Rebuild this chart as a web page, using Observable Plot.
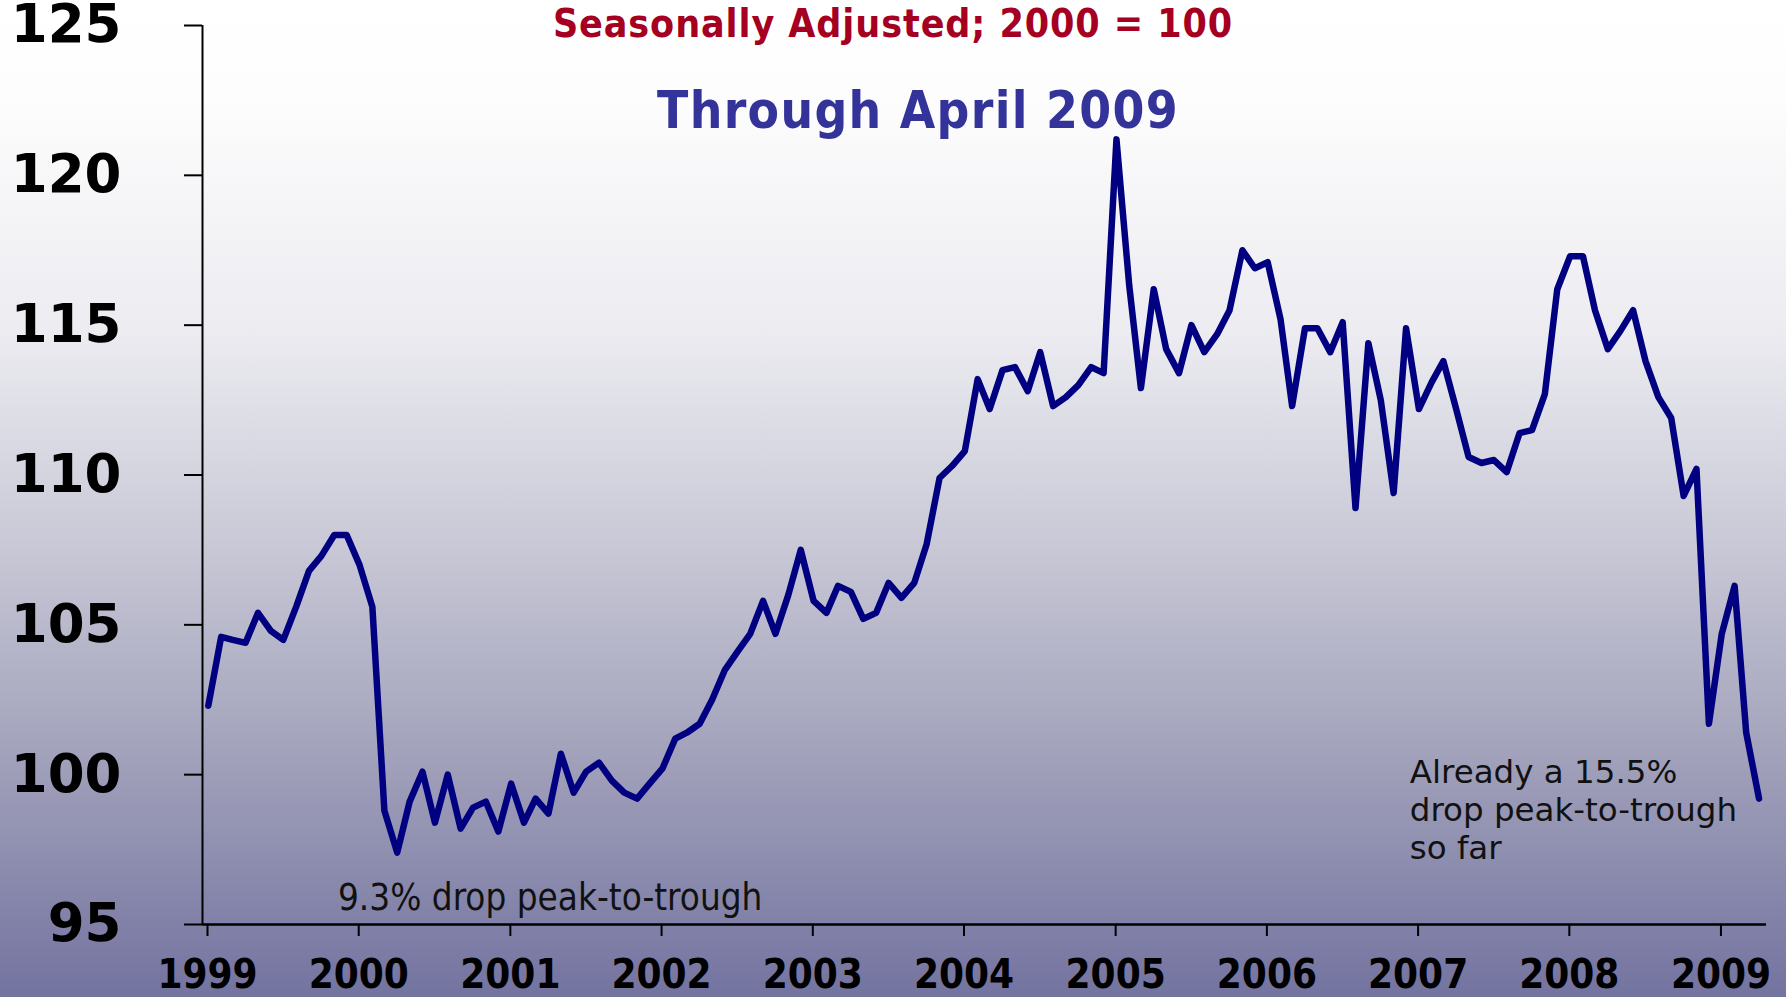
<!DOCTYPE html>
<html>
<head>
<meta charset="utf-8">
<script src="https://cdn.jsdelivr.net/npm/d3@7"></script>
<script src="https://cdn.jsdelivr.net/npm/@observablehq/plot@0.6"></script>
<style>
  html, body { margin: 0; padding: 0; }
  #wrap {
    position: relative; width: 1786px; height: 997px; overflow: hidden;
    background: linear-gradient(to bottom, #ffffff 0%, #fdfdfd 10%, #ececf1 33%, #cdcdda 52%, #a3a3bc 75%, #7373a0 100%);
  }
  #wrap svg { position: absolute; left: 0; top: 0; }
  .ttl { position: absolute; white-space: nowrap; line-height: 1; transform: translateX(-50%);
         font-family: "DejaVu Sans Condensed", "DejaVu Sans"; font-stretch: condensed; font-weight: bold; }
  #t1 { left: 893px; top: 4px; font-size: 39px; color: #A50021; letter-spacing: 0.9px; }
  #t2 { left: 918px; top: 85px; font-size: 51px; color: #333399; letter-spacing: 1.3px; }
</style>
</head>
<body>
<div id="wrap">
  <div class="ttl" id="t1">Seasonally Adjusted; 2000 = 100</div>
  <div class="ttl" id="t2">Through April 2009</div>
</div>
<script>
// Monthly index values, January 1999 through April 2009
const startYear = 1999;
const indexValues = [
  102.3, 104.6, 104.5, 104.4, 105.4, 104.8, 104.5, 105.6, 106.8, 107.3, 108.0, 108.0, // 1999
  107.0, 105.6, 98.8, 97.4, 99.1, 100.1, 98.4, 100.0, 98.2, 98.9, 99.1, 98.1,          // 2000
  99.7, 98.4, 99.2, 98.7, 100.7, 99.4, 100.1, 100.4, 99.8, 99.4, 99.2, 99.7,           // 2001
  100.2, 101.2, 101.4, 101.7, 102.5, 103.5, 104.1, 104.7, 105.8, 104.7, 106.0, 107.5,  // 2002
  105.8, 105.4, 106.3, 106.1, 105.2, 105.4, 106.4, 105.9, 106.4, 107.7, 109.9, 110.3,  // 2003
  110.8, 113.2, 112.2, 113.5, 113.6, 112.8, 114.1, 112.3, 112.6, 113.0, 113.6, 113.4,  // 2004
  121.2, 116.3, 112.9, 116.2, 114.2, 113.4, 115.0, 114.1, 114.7, 115.5, 117.5, 116.9,  // 2005
  117.1, 115.2, 112.3, 114.9, 114.9, 114.1, 115.1, 108.9, 114.4, 112.5, 109.4, 114.9,  // 2006
  112.2, 113.1, 113.8, 112.2, 110.6, 110.4, 110.5, 110.1, 111.4, 111.5, 112.7, 116.2,  // 2007
  117.3, 117.3, 115.5, 114.2, 114.8, 115.5, 113.8, 112.6, 111.9, 109.3, 110.2, 101.7,  // 2008
  104.7, 106.3, 101.4, 99.2                                                            // 2009
];
const yTicks = [95, 100, 105, 110, 115, 120, 125];
const xTickYears = [1999, 2000, 2001, 2002, 2003, 2004, 2005, 2006, 2007, 2008, 2009];
const xDomain = [new Date(Date.UTC(1999, 0, 1)), new Date(Date.UTC(2009, 4, 3))];
const yDomain = [95, 125];

const annotations = [
  {date: new Date(Date.UTC(1999, 10, 24)), value: 95.5, text: "9.3% drop peak-to-trough"},
  {date: new Date(Date.UTC(2006, 11, 24)), value: 97.2, text: "Already a 15.5%\ndrop peak-to-trough\nso far"}
];

const data = indexValues.map((v, i) => ({
  date: new Date(Date.UTC(startYear + Math.floor(i / 12), i % 12, 15)),
  value: v
}));
const tickDates = xTickYears.map(y => new Date(Date.UTC(y, 0, 1)));

const chart = Plot.plot({
  width: 1786,
  height: 997,
  marginLeft: 202,
  marginRight: 20,
  marginTop: 25,
  marginBottom: 73,
  style: {background: "transparent", overflow: "visible"},
  x: {type: "utc", domain: xDomain},
  y: {domain: yDomain},
  marks: [
    Plot.axisY(yTicks, {
      tickSize: 18, tickPadding: 63, strokeWidth: 2, stroke: "black", fill: "black",
      fontSize: 53, fontWeight: "bold", fontFamily: "DejaVu Sans", label: null
    }),
    Plot.axisX(tickDates, {
      tickSize: 12, tickPadding: 23, strokeWidth: 2, stroke: "black", fill: "black",
      tickFormat: d3.utcFormat("%Y"), dx: 5,
      fontSize: 40, fontWeight: "bold", fontFamily: "DejaVu Sans Condensed", label: null
    }),
    Plot.ruleX([xDomain[0]], {y1: yDomain[0], y2: yDomain[1], stroke: "black", strokeWidth: 2}),
    Plot.ruleY([yDomain[0]], {x1: xDomain[0], x2: xDomain[1], stroke: "black", strokeWidth: 2.5}),
    Plot.line(data, {x: "date", y: "value", stroke: "#000080", strokeWidth: 6.5,
      strokeLinejoin: "round", strokeLinecap: "round"}),
    Plot.text([annotations[0]], {x: "date", y: "value", text: "text", textAnchor: "start",
      lineAnchor: "bottom", fontSize: 36.5, fontFamily: "DejaVu Sans Condensed", fill: "#111"}),
    Plot.text([annotations[1]], {x: "date", y: "value", text: "text", textAnchor: "start",
      lineAnchor: "bottom", lineHeight: 1.16, fontSize: 32.5, fontFamily: "DejaVu Sans", fill: "#111"})
  ]
});
document.getElementById("wrap").prepend(chart);
</script>
</body>
</html>
